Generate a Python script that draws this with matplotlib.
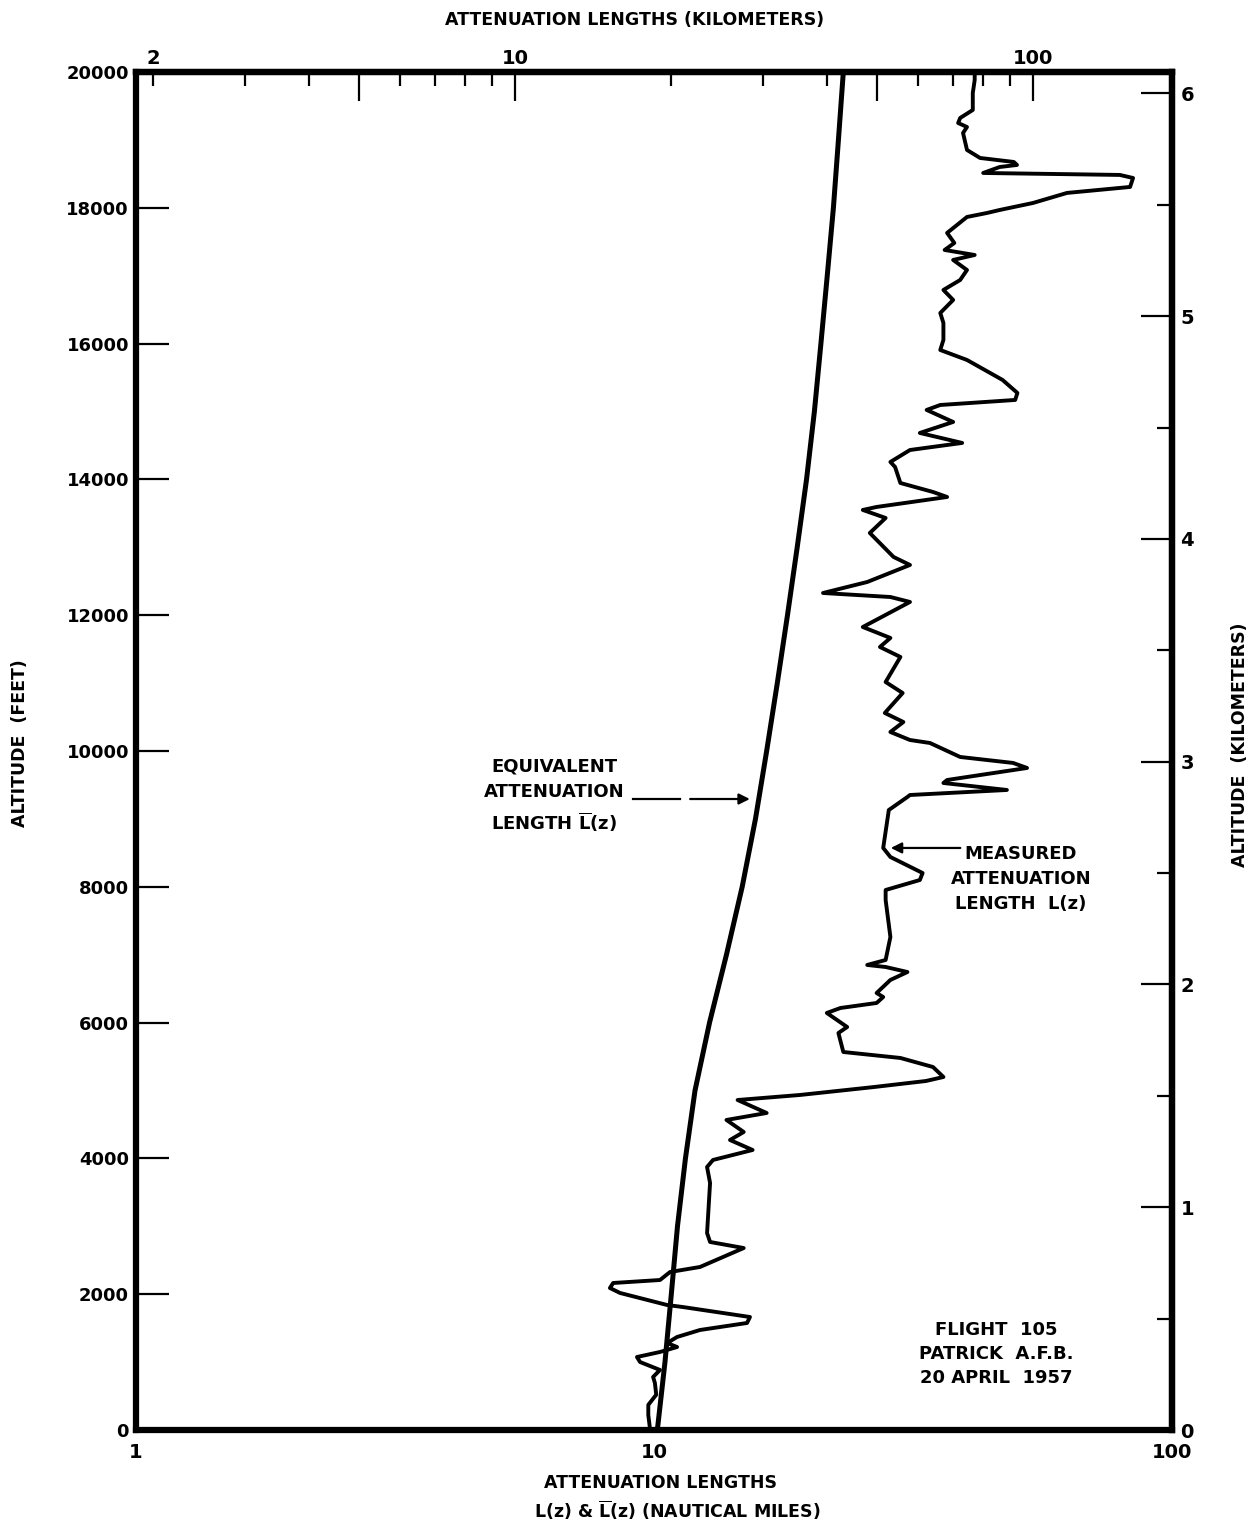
import matplotlib
matplotlib.use("Agg")
import matplotlib.pyplot as plt
from matplotlib.ticker import FixedLocator, FuncFormatter, NullLocator, NullFormatter

plt.rcParams['font.family'] = ['DejaVu Sans']
plt.rcParams['font.weight'] = 'bold'
plt.rcParams['mathtext.default'] = 'bf'

# measured attenuation length L(z), traced bottom -> top along the pen path
meas_alt_ft = [0, 220, 370, 520, 692, 781, 884, 1001, 1075, 1149, 1222, 1281, 1370, 1473,
               1576, 1664, 1811, 1841, 2018, 2091, 2165, 2209, 2327, 2401, 2680, 2769, 2901,
               3638, 3873, 3977, 4124, 4271, 4389, 4566, 4669, 4860, 4934, 5050, 5140, 5199, 5346, 5479,
               5567, 5847, 5935, 6142, 6215, 6289, 6377, 6436, 6628, 6745, 6819, 6849, 6922,
               7261, 7806, 7953, 8100, 8203, 8439, 8572, 9131, 9323, 9352, 9426, 9529, 9573,
               9750, 9824, 9912, 10118, 10162, 10280, 10427, 10560, 10854, 11016, 11385,
               11532, 11665, 11826, 12195, 12268, 12327, 12489, 12740, 12858, 13211, 13432,
               13550, 13594, 13741, 13815, 13947, 14183, 14257, 14433, 14537, 14684, 14846,
               15023, 15096, 15170, 15273, 15464, 15759, 15906, 16054, 16304, 16451, 16643,
               16790, 16937, 17084, 17232, 17305, 17379, 17482, 17630, 17865, 17924, 17968,
               18071, 18219, 18307, 18439, 18484, 18513, 18601, 18631, 18675, 18734, 18852,
               19102, 19190, 19249, 19323, 19441, 19691, 19882, 20000]
meas_L_nm = [9.83, 9.75, 9.75, 10.1, 10.04, 9.96, 10.27, 9.40, 9.27, 10.27, 11.08, 10.6, 11.08, 12.27,
             15.12, 15.32, 11.37, 10.6, 8.60, 8.22, 8.34, 10.27, 10.74, 12.27, 14.9, 12.83, 12.66,
             12.83, 12.66, 13.0, 15.5, 14.02, 14.9, 13.8, 16.5, 14.5, 19.13, 26.5, 33.5, 36.2, 34.56, 29.9,
             23.2, 22.7, 23.6, 21.56, 22.9, 26.9, 27.7, 26.9, 28.6, 30.85, 28.0, 25.8, 28.0,
             28.6, 28.0, 28.0, 32.6, 33.0, 28.6, 27.7, 28.4, 30.85, 31.2, 48.0, 36.2, 36.8,
             52.5, 49.35, 39.0, 34.1, 31.2, 28.6, 30.3, 27.9, 30.2, 28.0, 29.9,
             27.3, 28.6, 25.3, 31.2, 28.6, 21.2, 25.8, 31.2, 29.0, 26.1, 28.0,
             25.3, 26.9, 36.8, 34.56, 29.9, 29.2, 28.6, 31.2, 39.35, 32.6, 37.8,
             33.6, 35.7, 49.8, 50.3, 47.1, 40.2, 35.7, 36.2, 36.2, 35.7, 37.8,
             36.2, 39.0, 40.2, 37.8, 41.6, 36.4, 38.0, 36.8, 40.2, 43.95, 46.5,
             53.9, 62.7, 83.0, 84.1, 79.3, 43.2, 46.5, 50.2, 49.5, 42.6, 40.2,
             39.5, 40.2, 38.65, 39.0, 41.25, 41.25, 41.6, 41.6]

# equivalent attenuation length Lbar(z)
equiv_alt_ft = [0, 1000, 2000, 3000, 4000, 5000, 6000, 7000, 8000, 9000, 10000,
                11000, 12000, 13000, 14000, 15000, 16000, 17000, 18000, 19000, 20000]
equiv_L_nm = [10.15, 10.5, 10.8, 11.1, 11.5, 12.0, 12.8, 13.8, 14.8, 15.7, 16.5,
              17.3, 18.1, 18.9, 19.7, 20.4, 21.0, 21.6, 22.2, 22.7, 23.2]

ft_ticks = list(range(0, 20001, 2000))
km_major = [0, 1, 2, 3, 4, 5, 6]
km_minor = [0.5, 1.5, 2.5, 3.5, 4.5, 5.5]
top_km_major = [5, 10, 50, 100]
top_km_minor = [2, 3, 4, 6, 7, 8, 9, 20, 30, 40, 60, 70, 80, 90]

NM_TO_KM = 1.852
FT_TO_KM = 0.0003048
LBAR = r'$\overline{\mathbf{L}}$'

W, H = 1260, 1524
fig = plt.figure(figsize=(W / 100, H / 100), dpi=100)
ax = fig.add_axes([136 / W, 94 / H, (1172 - 136) / W, (1430 - 72) / H])

ax.plot(equiv_L_nm, equiv_alt_ft, color='black', lw=3.6, solid_capstyle='butt')
ax.plot(meas_L_nm, meas_alt_ft, color='black', lw=2.8, solid_joinstyle='round')

ax.set_xscale('log')
ax.set_xlim(1, 100)
ax.set_ylim(0, 20000)

for s in ax.spines.values():
    s.set_linewidth(4.5)

# bottom axis: labels only
ax.xaxis.set_major_locator(FixedLocator([1, 10, 100]))
ax.xaxis.set_major_formatter(FuncFormatter(lambda v, p: f"{v:g}"))
ax.xaxis.set_minor_locator(NullLocator())
ax.tick_params(axis='x', which='both', length=0, pad=9, labelsize=14)

# left axis (feet)
ax.set_yticks(ft_ticks)
ax.tick_params(axis='y', direction='in', length=24, width=1.6, pad=5, labelsize=13)

# top axis (km)
secx = ax.secondary_xaxis('top', functions=(lambda x: x * NM_TO_KM, lambda x: x / NM_TO_KM))
secx.xaxis.set_major_locator(FixedLocator(top_km_major))
secx.xaxis.set_minor_locator(FixedLocator(top_km_minor))
secx.xaxis.set_major_formatter(FuncFormatter(lambda v, p: '' if v in (5, 50) else f"{v:g}"))
secx.xaxis.set_minor_formatter(FuncFormatter(lambda v, p: '2' if abs(v - 2) < 1e-6 else ''))
secx.tick_params(axis='x', which='major', direction='in', length=21, width=1.6, pad=3, labelsize=14)
secx.tick_params(axis='x', which='minor', direction='in', length=10, width=1.6, pad=3, labelsize=14)
secx.spines['top'].set_linewidth(4.5)

# right axis (km)
secy = ax.secondary_yaxis('right', functions=(lambda y: y * FT_TO_KM, lambda y: y / FT_TO_KM))
secy.yaxis.set_major_locator(FixedLocator(km_major))
secy.yaxis.set_minor_locator(FixedLocator(km_minor))
secy.yaxis.set_minor_formatter(NullFormatter())
secy.tick_params(axis='y', which='major', direction='in', length=22, width=1.6, pad=6, labelsize=14)
secy.tick_params(axis='y', which='minor', direction='in', length=11, width=1.6)
secy.spines['right'].set_linewidth(4.5)

# axis titles
fig.text(635 / W, 1 - 20 / H, "ATTENUATION LENGTHS (KILOMETERS)", ha='center', va='center', fontsize=12.5)
fig.text(660 / W, 1 - 1483 / H, "ATTENUATION LENGTHS", ha='center', va='center', fontsize=12.5)
fig.text(677 / W, 1 - 1510 / H, "L(z) & " + LBAR + "(z) (NAUTICAL MILES)", ha='center', va='center', fontsize=12.5)
fig.text(20 / W, 1 - 743 / H, "ALTITUDE  (FEET)", rotation=90, ha='center', va='center', fontsize=12.5)
fig.text(1240 / W, 1 - 745 / H, "ALTITUDE  (KILOMETERS)", rotation=90, ha='center', va='center', fontsize=12.5)

# annotations
fig.text(554 / W, 1 - 796 / H, "EQUIVALENT\nATTENUATION\nLENGTH " + LBAR + "(z)",
         ha='center', va='center', fontsize=13, linespacing=1.5)
ax.plot([9.11, 11.22], [9293, 9293], color='black', lw=1.6)
ax.annotate('', xy=(15.5, 9293), xytext=(11.6, 9293),
            arrowprops=dict(arrowstyle='-|>', lw=1.6, color='black', mutation_scale=16))

fig.text(1021 / W, 1 - 879 / H, "MEASURED\nATTENUATION\nLENGTH  L(z)",
         ha='center', va='center', fontsize=13, linespacing=1.5)
ax.annotate('', xy=(28.3, 8572), xytext=(39.5, 8572),
            arrowprops=dict(arrowstyle='-|>', lw=1.6, color='black', mutation_scale=16))

fig.text(996 / W, 1 - 1354 / H, "FLIGHT  105\nPATRICK  A.F.B.\n20 APRIL  1957",
         ha='center', va='center', fontsize=13, linespacing=1.4)

fig.savefig('out.png', dpi=100)
